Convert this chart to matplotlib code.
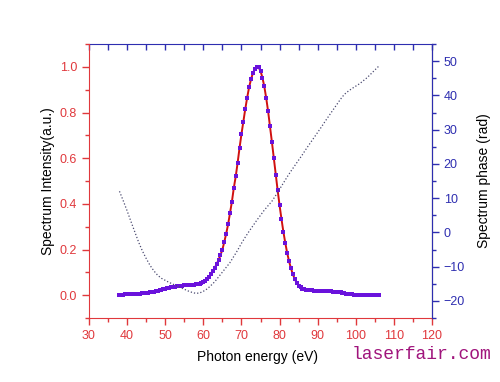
import matplotlib.pyplot as plt
import numpy as np
from matplotlib.ticker import MultipleLocator

plt.rcParams['font.family'] = ['Liberation Sans', 'DejaVu Sans']

red = '#e0383c'
blue = '#2e2eb0'
purple = '#6a12dc'

# spectrum intensity, 0.5 eV steps from 38 to 106 eV
energy = np.arange(38.0, 106.01, 0.5)
intensity = [
    0.002, 0.002, 0.002, 0.003, 0.003, 0.003, 0.004, 0.004, 0.005, 0.005,
    0.006, 0.007, 0.008, 0.009, 0.010, 0.011, 0.013, 0.014, 0.016, 0.018,
    0.020, 0.022, 0.024, 0.026, 0.028, 0.030, 0.032, 0.034, 0.036, 0.037,
    0.039, 0.040, 0.041, 0.042, 0.043, 0.044, 0.044, 0.045, 0.045, 0.046,
    0.047, 0.048, 0.050, 0.053, 0.058, 0.064, 0.072, 0.081, 0.092, 0.105,
    0.120, 0.136, 0.155, 0.175, 0.200, 0.233, 0.270, 0.310, 0.360, 0.410,
    0.470, 0.520, 0.580, 0.645, 0.705, 0.760, 0.815, 0.865, 0.910, 0.945,
    0.972, 0.990, 1.000, 0.998, 0.982, 0.953, 0.914, 0.863, 0.805, 0.739,
    0.670, 0.599, 0.528, 0.459, 0.394, 0.334, 0.278, 0.229, 0.185, 0.148,
    0.117, 0.091, 0.070, 0.054, 0.042, 0.034, 0.029, 0.026, 0.024, 0.023,
    0.022, 0.021, 0.020, 0.020, 0.019, 0.019, 0.019, 0.018, 0.018, 0.018,
    0.017, 0.017, 0.016, 0.016, 0.015, 0.014, 0.013, 0.011, 0.009, 0.007,
    0.006, 0.004, 0.003, 0.002, 0.002, 0.002, 0.002, 0.002, 0.002, 0.002,
    0.002, 0.002, 0.002, 0.002, 0.002, 0.002, 0.002,
]

# spectrum phase, 1 eV steps
phase_energy = np.arange(38, 107, 1)
phase = [
    12.0, 9.2, 6.3, 3.2, 0.2, -2.8, -5.4, -7.6, -9.6, -11.2,
    -12.5, -13.4, -14.0, -14.6, -15.1, -15.6, -16.1, -16.6, -17.1, -17.5,
    -17.8, -17.7, -17.2, -16.5, -15.5, -14.4, -13.0, -11.6, -10.2, -8.8,
    -7.0, -5.2, -3.2, -1.4, 0.3, 1.9, 3.5, 5.0, 6.5, 7.8,
    9.1, 10.8, 12.6, 14.4, 16.2, 17.9, 19.5, 21.1, 22.7, 24.4,
    26.0, 27.6, 29.2, 30.8, 32.5, 34.1, 35.7, 37.3, 38.9, 40.3,
    41.2, 42.0, 42.7, 43.4, 44.3, 45.2, 46.3, 47.4, 48.5,
]

fig = plt.figure(figsize=(5, 3.82), dpi=100)
ax = fig.add_axes([0.178, 0.1675, 0.686, 0.7173])

ax.plot(energy, intensity, color='#d01010', lw=1.4, zorder=3)
ax.plot(energy, intensity, ls='none', marker='s', ms=3.2, mew=0, color=purple, zorder=4)

ax.set_xlim(30, 120)
ax.set_ylim(-0.1, 1.1)
ax.xaxis.set_major_locator(MultipleLocator(10))
ax.xaxis.set_minor_locator(MultipleLocator(5))
ax.yaxis.set_major_locator(MultipleLocator(0.2))
ax.yaxis.set_minor_locator(MultipleLocator(0.1))
ax.yaxis.set_major_formatter(plt.FuncFormatter(lambda v, p: f'{v:.1f}'))
ax.tick_params(axis='both', which='major', direction='out', length=5, width=1,
               colors=red, labelsize=9)
ax.tick_params(axis='both', which='minor', direction='out', length=3, width=1, colors=red)
ax.spines['left'].set_color(red)
ax.spines['bottom'].set_color(red)
ax.spines['top'].set_visible(False)
ax.set_xlabel('Photon energy (eV)', fontsize=10)
ax.set_ylabel('Spectrum Intensity(a.u.)', fontsize=10)
ax.xaxis.set_label_coords(0.49, -0.118)
ax.yaxis.set_label_coords(-0.1, 0.5)

top = ax.secondary_xaxis('top')
top.set_xticks(np.arange(30, 121, 5))
top.tick_params(direction='in', length=4, width=1, colors=blue, labeltop=False)
top.spines['top'].set_color(blue)

ax2 = ax.twinx()
ax2.plot(phase_energy, phase, color='#4a4a70', lw=0.9, ls=(0, (1, 1.6)))
ax2.set_ylim(-25, 55)
ax2.yaxis.set_major_locator(MultipleLocator(10))
ax2.yaxis.set_minor_locator(MultipleLocator(5))
ax2.tick_params(axis='y', which='major', direction='out', length=5, width=1,
                colors=blue, labelsize=9)
ax2.tick_params(axis='y', which='minor', direction='out', length=3, width=1, colors=blue)
ax2.spines['right'].set_color(blue)
ax2.spines['top'].set_visible(False)
ax2.spines['left'].set_visible(False)
ax2.spines['bottom'].set_visible(False)
ax2.set_ylabel('Spectrum phase (rad)', fontsize=10)
ax2.yaxis.set_label_coords(1.132, 0.5)

fig.text(0.703, 0.06, 'laserfair.com', family='Liberation Mono', fontsize=13,
         color='#a0147c')

fig.savefig('out.png', dpi=100)
